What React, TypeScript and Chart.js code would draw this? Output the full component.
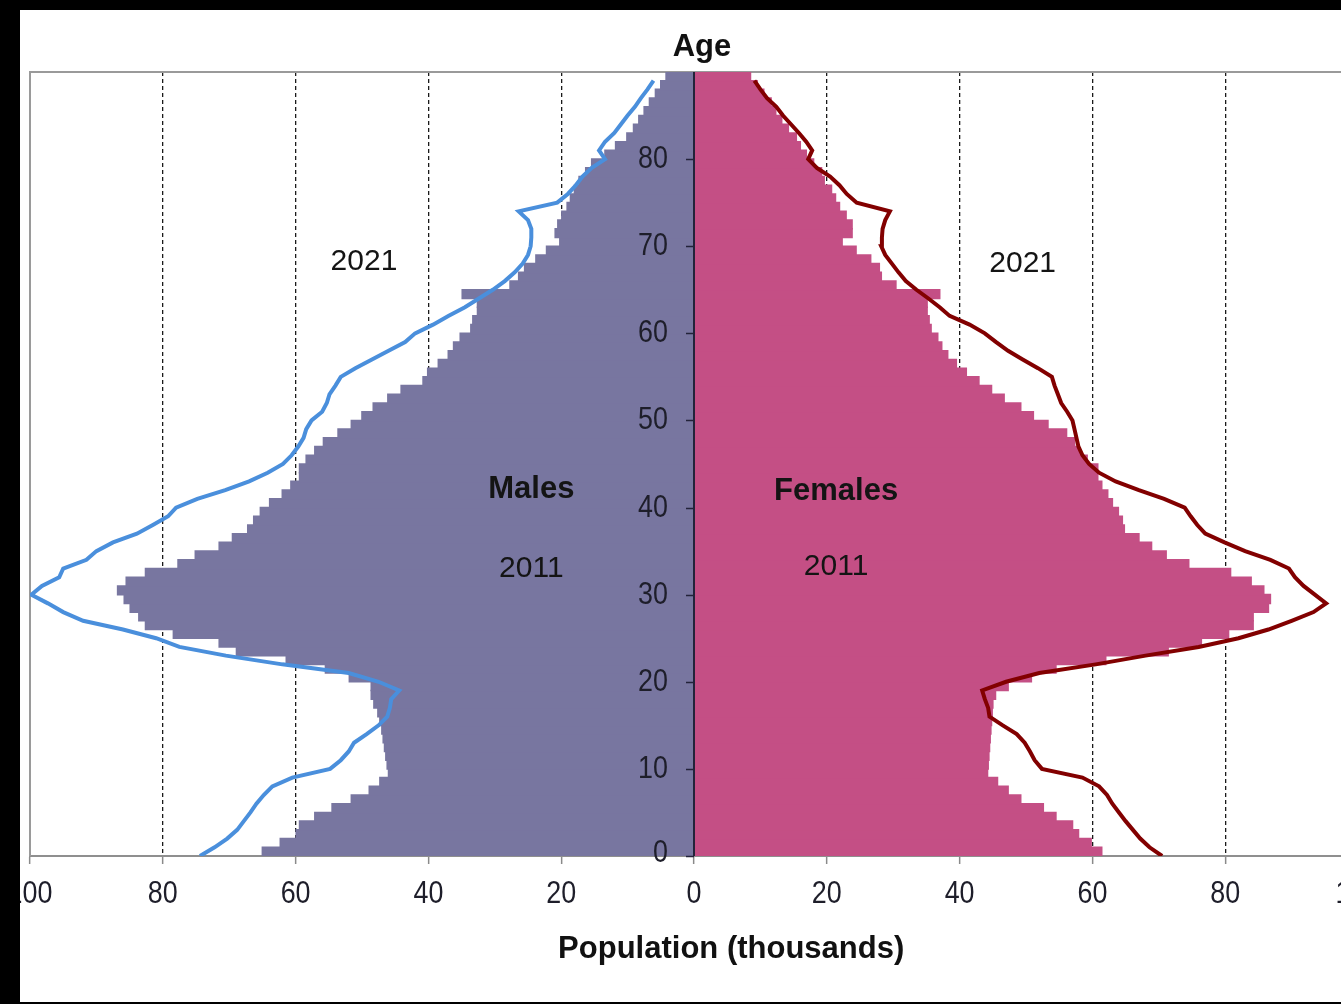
import React, { useEffect, useRef } from 'react';
import { Chart, registerables } from 'chart.js';

Chart.register(...registerables);

const AGES = [
  0, 1, 2, 3, 4, 5, 6, 7, 8, 9, 10, 11, 12, 13, 14, 15, 16, 17, 18, 19,
  20, 21, 22, 23, 24, 25, 26, 27, 28, 29, 30, 31, 32, 33, 34, 35, 36, 37, 38, 39,
  40, 41, 42, 43, 44, 45, 46, 47, 48, 49, 50, 51, 52, 53, 54, 55, 56, 57, 58, 59,
  60, 61, 62, 63, 64, 65, 66, 67, 68, 69, 70, 71, 72, 73, 74, 75, 76, 77, 78, 79,
  80, 81, 82, 83, 84, 85, 86, 87, 88, 89,
];

// Population in thousands, 2011 (bars)
const MALES_2011 = [
  65.0, 62.3, 59.9, 59.4, 57.1, 54.5, 51.6, 48.9, 47.3, 46.0,
  46.2, 46.4, 46.6, 46.8, 47.0, 47.3, 47.6, 48.2, 48.6, 48.6,
  51.9, 55.5, 61.4, 68.9, 71.5, 78.4, 82.6, 83.6, 84.9, 85.8,
  86.8, 85.5, 82.6, 77.7, 75.1, 71.5, 69.5, 67.2, 66.3, 65.3,
  63.9, 62.0, 60.7, 59.4, 59.4, 58.4, 57.1, 55.8, 53.6, 51.6,
  50.0, 48.3, 46.1, 44.1, 40.8, 40.1, 38.5, 37.0, 36.2, 35.2,
  33.6, 33.3, 32.6, 32.6, 34.9, 27.7, 26.4, 25.5, 23.8, 22.2,
  20.2, 20.9, 20.5, 19.9, 19.1, 18.6, 18.0, 17.3, 16.3, 15.4,
  13.4, 11.8, 10.1, 9.1, 8.3, 7.5, 6.7, 5.8, 5.0, 4.2,
];

const FEMALES_2011 = [
  61.4, 59.8, 57.9, 57.0, 54.5, 52.6, 49.2, 47.3, 45.7, 44.2,
  44.3, 44.4, 44.5, 44.6, 44.7, 44.8, 44.9, 45.0, 45.4, 47.3,
  50.8, 54.5, 62.0, 71.4, 76.4, 80.5, 84.2, 84.2, 86.5, 86.8,
  85.8, 83.9, 80.8, 74.5, 71.1, 68.9, 67.0, 64.8, 64.5, 63.9,
  63.0, 62.3, 61.4, 60.8, 60.8, 59.2, 58.0, 57.3, 56.1, 53.3,
  51.1, 49.2, 46.7, 44.8, 42.9, 41.0, 39.5, 38.2, 37.3, 36.7,
  35.7, 35.4, 35.1, 35.1, 37.0, 30.4, 28.2, 27.9, 26.6, 24.4,
  22.3, 23.8, 23.8, 22.9, 21.9, 21.3, 20.7, 19.6, 19.2, 18.0,
  16.9, 16.0, 15.4, 14.2, 13.2, 12.3, 11.6, 10.5, 9.5, 8.5,
];

// Population in thousands, 2021 (lines)
const MALES_2021 = [
  74.4, 72.2, 70.3, 68.8, 67.8, 66.8, 65.9, 64.8, 63.5, 60.5,
  54.8, 53.2, 52.0, 51.2, 49.3, 47.5, 46.2, 45.8, 45.6, 44.4,
  47.5, 52.0, 62.0, 70.5, 77.5, 81.0, 86.0, 92.0, 95.0, 97.3,
  99.8, 98.2, 95.6, 95.0, 91.5, 90.0, 87.5, 83.9, 81.5, 79.2,
  78.0, 74.8, 70.6, 67.0, 64.2, 61.9, 60.6, 59.6, 58.8, 58.4,
  57.6, 56.0, 55.3, 54.9, 54.0, 53.2, 51.0, 48.5, 46.0, 43.5,
  42.0, 39.3, 37.0, 34.5, 32.4, 30.3, 28.5, 27.0, 25.8, 25.0,
  24.6, 24.5, 24.5, 25.0, 26.4, 20.6, 19.0, 17.8, 16.8, 15.4,
  13.4, 14.3, 13.4, 12.0, 11.0, 10.0, 8.9, 8.0, 7.0, 6.1,
];

const FEMALES_2021 = [
  70.5, 68.6, 67.2, 66.1, 65.0, 64.0, 63.0, 62.2, 61.0, 58.5,
  52.4, 51.3, 50.6, 49.8, 48.6, 46.5, 44.5, 44.3, 43.8, 43.4,
  47.0, 52.0, 60.5, 68.0, 76.0, 82.0, 86.5, 90.0, 93.3, 95.2,
  93.5, 91.8, 90.5, 89.6, 86.8, 83.0, 79.9, 77.0, 75.8, 74.8,
  73.9, 70.8, 67.0, 63.5, 61.0, 59.5, 58.5, 57.9, 57.6, 57.3,
  57.0, 56.2, 55.3, 54.8, 54.3, 53.9, 51.8, 49.5, 47.3, 45.5,
  43.8, 41.5, 38.5, 37.0, 35.3, 33.5, 31.9, 30.8, 29.8, 28.8,
  28.2, 28.3, 28.4, 28.8, 29.5, 24.5, 23.0, 21.9, 20.5, 18.5,
  17.2, 17.8, 16.9, 15.8, 14.6, 13.4, 12.4, 11.0, 10.0, 9.1,
];

const X_MIN = -100;
const X_MAX = 100;
const X_STEP = 20;
const AGE_MAX = 90;
const AGE_TICKS = [0, 10, 20, 30, 40, 50, 60, 70, 80];

const ANNOTATIONS = [
  { text: 'Males', x: -24.5, y: 42.1, bold: true },
  { text: 'Females', x: 21.4, y: 41.9, bold: true },
  { text: '2011', x: -24.5, y: 33.0, bold: false },
  { text: '2011', x: 21.4, y: 33.2, bold: false },
  { text: '2021', x: -49.7, y: 68.2, bold: false },
  { text: '2021', x: 49.5, y: 68.0, bold: false },
];

const SANS = "'Liberation Sans', Arial, sans-serif";
const TICK_COLOR = '#1e1e2a';

function narrowText(ctx: any, text: string, x: number, y: number, align: 'center' | 'right') {
  const sx = 0.84;
  ctx.save();
  ctx.translate(x, y);
  ctx.scale(sx, 1);
  ctx.textAlign = align;
  ctx.textBaseline = 'middle';
  ctx.fillText(text, 0, 0);
  ctx.restore();
}

const pyramidPlugin = {
  id: 'pyramidDecor',
  beforeDatasetsDraw(chart: any) {
    const { ctx, chartArea } = chart;
    ctx.save();
    ctx.strokeStyle = '#9a9a9a';
    ctx.lineWidth = 2;
    ctx.beginPath();
    ctx.moveTo(chartArea.left, chartArea.bottom);
    ctx.lineTo(chartArea.left, chartArea.top);
    ctx.lineTo(chartArea.right, chartArea.top);
    ctx.lineTo(chartArea.right, chartArea.bottom);
    ctx.stroke();
    ctx.restore();
  },
  afterDatasetsDraw(chart: any) {
    const { ctx, chartArea, scales } = chart;
    const xs = scales.x;
    const ys = scales.y;
    const x0 = Math.round(xs.getPixelForValue(0));
    ctx.save();
    ctx.strokeStyle = '#23233a';
    ctx.lineWidth = 2;
    ctx.beginPath();
    ctx.moveTo(x0, chartArea.top);
    ctx.lineTo(x0, chartArea.bottom);
    ctx.stroke();
    ctx.lineWidth = 1.5;
    ctx.font = `32px ${SANS}`;
    ctx.fillStyle = TICK_COLOR;
    for (const a of AGE_TICKS) {
      const py = Math.round(ys.getPixelForValue(a)) + 0.5;
      ctx.beginPath();
      ctx.moveTo(x0 - 8, py);
      ctx.lineTo(x0, py);
      ctx.stroke();
      narrowText(ctx, String(a), x0 - 26, py + (a === 0 ? -3 : 0), 'right');
    }
    for (const t of xs.ticks) {
      const px = xs.getPixelForValue(t.value);
      narrowText(ctx, String(Math.abs(t.value)), px, chartArea.bottom + 38, 'center');
    }
    ctx.restore();
  },
  afterDraw(chart: any) {
    const { ctx, chartArea, scales } = chart;
    const xs = scales.x;
    const ys = scales.y;
    ctx.save();
    ctx.textAlign = 'center';
    ctx.textBaseline = 'middle';
    for (const a of ANNOTATIONS) {
      ctx.font = a.bold ? `bold 31px ${SANS}` : `30px ${SANS}`;
      ctx.fillStyle = '#141414';
      ctx.fillText(a.text, xs.getPixelForValue(a.x), ys.getPixelForValue(a.y));
    }
    ctx.font = `bold 31px ${SANS}`;
    ctx.fillStyle = '#111';
    ctx.fillText('Age', xs.getPixelForValue(1.2), chartArea.top - 25);
    ctx.fillText('Population (thousands)', xs.getPixelForValue(5.6), chartArea.bottom + 93);
    ctx.restore();
  },
};

export default function App() {
  const ref = useRef<HTMLCanvasElement | null>(null);

  useEffect(() => {
    if (!ref.current) return;
    const maleBars = AGES.map((a, i) => ({ x: -MALES_2011[i], y: a + 0.5 }));
    const femaleBars = AGES.map((a, i) => ({ x: FEMALES_2011[i], y: a + 0.5 }));
    const maleLine = AGES.map((a, i) => ({ x: -MALES_2021[i], y: a }));
    const femaleLine = AGES.map((a, i) => ({ x: FEMALES_2021[i], y: a }));

    const chart = new Chart(ref.current, {
      type: 'bar',
      data: {
        datasets: [
          {
            type: 'line',
            label: 'Males 2021',
            data: maleLine,
            borderColor: '#4a8fdc',
            borderWidth: 4,
            pointRadius: 0,
            tension: 0,
            fill: false,
            order: 0,
          } as any,
          {
            type: 'line',
            label: 'Females 2021',
            data: femaleLine,
            borderColor: '#820000',
            borderWidth: 4,
            pointRadius: 0,
            tension: 0,
            fill: false,
            order: 0,
          } as any,
          {
            type: 'bar',
            label: 'Males 2011',
            data: maleBars,
            backgroundColor: '#7876a0',
            borderWidth: 0,
            inflateAmount: 0.8,
            categoryPercentage: 1,
            barPercentage: 1,
            grouped: false,
            order: 1,
          } as any,
          {
            type: 'bar',
            label: 'Females 2011',
            data: femaleBars,
            backgroundColor: '#c44f85',
            borderWidth: 0,
            inflateAmount: 0.8,
            categoryPercentage: 1,
            barPercentage: 1,
            grouped: false,
            order: 1,
          } as any,
        ],
      },
      options: {
        indexAxis: 'y',
        responsive: false,
        animation: false,
        devicePixelRatio: 1,
        layout: { padding: { left: 50, right: 52, top: 62, bottom: 0 } },
        plugins: {
          legend: { display: false },
          tooltip: { enabled: false },
          title: { display: false },
        },
        scales: {
          x: {
            type: 'linear',
            position: 'bottom',
            min: X_MIN,
            max: X_MAX,
            offset: false,
            afterFit: (s: any) => {
              s.height = 146;
            },
            ticks: {
              stepSize: X_STEP,
              display: false,
            },
            grid: {
              color: (c: any) =>
                c.tick && (c.tick.value === 0 || Math.abs(c.tick.value) === 100)
                  ? 'rgba(0,0,0,0)'
                  : '#1a1a1a',
              lineWidth: 1.3,
              tickColor: '#8a8a8a',
              tickLength: 8,
              tickWidth: 1.5,
            },
            border: { display: true, color: '#8f8f8f', width: 2, dash: [4, 3] },
          },
          y: {
            type: 'linear',
            position: 'left',
            display: false,
            offset: false,
            grid: { offset: false },
            min: 0,
            max: AGE_MAX,
          },
        },
      } as any,
      plugins: [pyramidPlugin],
    });
    return () => chart.destroy();
  }, []);

  return (
    <div style={{ position: 'fixed', left: 0, top: 0, width: 1341, height: 1004, background: '#000', overflow: 'hidden' }}>
      <div style={{ position: 'absolute', left: 20, top: 10, width: 1321, height: 992, background: '#fff', overflow: 'hidden' }}>
        <canvas ref={ref} width={1430} height={992} style={{ position: 'absolute', left: -40, top: 0 }} />
      </div>
    </div>
  );
}
